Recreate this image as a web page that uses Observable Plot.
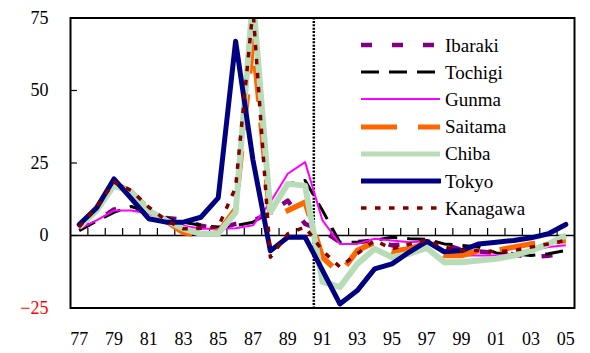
<!DOCTYPE html>
<html><head><meta charset="utf-8">
<script src="https://cdn.jsdelivr.net/npm/d3@7"></script>
<script src="https://cdn.jsdelivr.net/npm/@observablehq/plot@0.6"></script>
<style>
body{margin:0;background:#fff;}
#wrap{position:relative;width:590px;height:353px;font-family:"Liberation Serif","Times New Roman","Liberation Sans",sans-serif;}
#legend{position:absolute;left:361px;top:31.5px;}
.row{display:flex;align-items:center;height:27.2px;}
.row span{font-size:19px;margin-left:4px;line-height:1;color:#000;}
</style></head><body><div id="wrap"><div id="legend"></div></div>
<script>
const years = [1977,1978,1979,1980,1981,1982,1983,1984,1985,1986,1987,1988,1989,1990,1991,1992,1993,1994,1995,1996,1997,1998,1999,2000,2001,2002,2003,2004,2005];
const tickYears = [1977,1979,1981,1983,1985,1987,1989,1991,1993,1995,1997,1999,2001,2003,2005];
const tickLabels = ["77","79","81","83","85","87","89","91","93","95","97","99","01","03","05"];
const yTicks = [0,25,50,75];
const yTicksNeg = [-25];

const ibaraki  = [2.3,5,9,9.5,8,6,5.5,3.4,2.3,4,5,8,12,4,1.7,-2.3,-2.3,-1.7,-3.4,-3,-2,-3,-5,-5.5,-6,-6.5,-7.5,-7,-6];
const tochigi  = [1.7,5,8,10,8,6,4.6,3.5,2.9,3.4,4.6,8,17.8,19,8.6,-2.3,-2.3,-1.7,-0.6,-1.1,-1.3,-2.9,-3.4,-4,-6,-6.3,-6.9,-6.3,-5.2];
const gunma    = [2.3,5.2,8.6,8.6,7.5,5.2,3.4,2.3,2.3,2.5,3.5,11.5,21.3,25.3,5.2,-2.9,-2.9,-1.1,-1.7,-2.3,-2,-5.2,-6.9,-6.9,-6.9,-6.3,-5.2,-4,-3.4];
const saitama  = [3.2,9.5,18,15,9,5,1,0,1,9.2,67,5.7,8.6,11.5,-7.5,-13.2,-5.2,-2.3,-5.5,-4.6,-2.6,-6.9,-6.9,-5.2,-5.2,-4,-2.9,-2.3,-1.7];
const chiba    = [2.9,8.6,17.2,15,8.6,5.2,2.3,0.6,0.6,8,82,8,17.8,17.2,-16,-17.8,-9.8,-4.6,-7.5,-6.3,-4.3,-9.2,-9.2,-8.6,-8,-6.9,-5.2,-2.9,0];
const tokyo    = [3.8,9.5,19.5,12.7,5.8,4.6,4.6,6.3,13,67,26,-5.3,-0.6,-0.6,-12,-23.6,-19,-11.5,-9.8,-5.7,-2,-5.6,-5.2,-2.9,-2.3,-1.7,-0.8,0.6,3.8];
const kanagawa = [3,9.8,18.4,15.5,9.8,5.2,2.3,2.5,2.9,16.6,78,-7.5,0.6,2.9,-5.2,-10.9,-6.3,-1.7,-4.6,-3,-1.5,-4,-5.2,-5.2,-5.7,-5.2,-4,-2.9,-1.7];

const seriesNames = ["Ibaraki","Tochigi","Gunma","Saitama","Chiba","Tokyo","Kanagawa"];
const seriesValues = [ibaraki,tochigi,gunma,saitama,chiba,tokyo,kanagawa];
const styles = [
  {stroke:"#800080", strokeWidth:4.5, strokeDasharray:"11,20", strokeLinecap:"butt"},
  {stroke:"#000000", strokeWidth:3, strokeDasharray:"18,10", strokeLinecap:"butt"},
  {stroke:"#ff00ff", strokeWidth:2, strokeDasharray:null, strokeLinecap:"butt"},
  {stroke:"#ff6600", strokeWidth:5.5, strokeDasharray:"36,21", strokeLinecap:"butt"},
  {stroke:"#b8dcb8", strokeWidth:6, strokeDasharray:null, strokeLinecap:"butt"},
  {stroke:"#000080", strokeWidth:5, strokeDasharray:null, strokeLinecap:"round"},
  {stroke:"#800000", strokeWidth:3.5, strokeDasharray:"5.5,8.5", strokeLinecap:"butt"}
];

const boundaries = years.slice(0,-1).map(y => y + 0.5);
const font = "'Liberation Serif', 'Times New Roman', 'Liberation Sans', sans-serif";

const marks = [
  Plot.ruleY([0], {stroke:"black", strokeWidth:1.5}),
  Plot.ruleX(boundaries, {x: d => d, y1: 0, y2: 2.4, stroke:"black", strokeWidth:1.2}),
  Plot.ruleY([-25,0,25,50,75], {y: d => d, x1: 1976.5, x2: 1976.9, stroke:"black", strokeWidth:1.2}),
  Plot.ruleX([1990.5], {stroke:"black", strokeWidth:2.5, strokeDasharray:"2,1.4"})
];
seriesValues.forEach((vals, k) => {
  const s = styles[k];
  const opts = {x: (d,i) => years[i], y: d => d, stroke: s.stroke, strokeWidth: s.strokeWidth,
    strokeLinecap: s.strokeLinecap, strokeLinejoin: "round", clip: true};
  if (s.strokeDasharray) opts.strokeDasharray = s.strokeDasharray;
  marks.push(Plot.line(vals, opts));
});
marks.push(Plot.frame({stroke:"black", strokeWidth:2}));
marks.push(Plot.axisY(yTicks, {tickSize:0, tickPadding:22, fontSize:18, fill:"black"}));
marks.push(Plot.axisY(yTicksNeg, {tickSize:0, tickPadding:22, fontSize:18, fill:"red"}));
marks.push(Plot.axisX(tickYears, {tickSize:0, tickPadding:24, fontSize:18, tickFormat:(d,i)=>tickLabels[i]}));

const chart = Plot.plot({
  width: 590, height: 353,
  marginLeft: 70, marginRight: 16, marginTop: 17.5, marginBottom: 45.5,
  style: {fontFamily: font, background: "white", color: "black"},
  x: {domain: [1976.5, 2005.5], axis: null},
  y: {domain: [-25, 75], axis: null},
  marks
});
document.getElementById("wrap").prepend(chart);

const legend = document.getElementById("legend");
seriesNames.forEach((name, k) => {
  const s = styles[k];
  const row = document.createElement("div");
  row.className = "row";
  const svg = d3.create("svg").attr("width", 80).attr("height", 10);
  svg.append("line").attr("x1", 0).attr("x2", 79).attr("y1", 5).attr("y2", 5)
    .attr("stroke", s.stroke).attr("stroke-width", Math.min(s.strokeWidth, 5))
    .attr("stroke-dasharray", s.strokeDasharray).attr("stroke-linecap", s.strokeLinecap);
  row.appendChild(svg.node());
  const t = document.createElement("span");
  t.textContent = name;
  row.appendChild(t);
  legend.appendChild(row);
});
</script></body></html>
